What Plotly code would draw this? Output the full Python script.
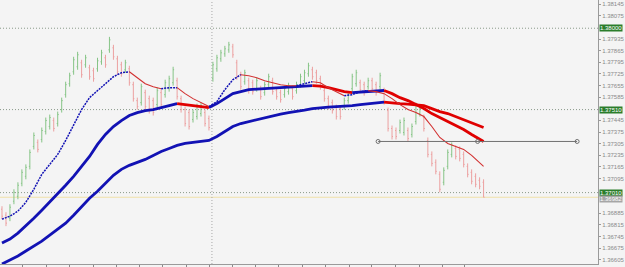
import plotly.graph_objects as go

# ---------------- data ----------------
bar_index = list(range(122))

opens = [1.36910, 1.36874, 1.36856, 1.36958, 1.36988, 1.37066, 1.37108, 1.37168, 1.37288, 1.37312,
         1.37330, 1.37378, 1.37408, 1.37444, 1.37426, 1.37510, 1.37600, 1.37666, 1.37738, 1.37768,
         1.37792, 1.37780, 1.37762, 1.37744, 1.37756, 1.37798, 1.37822, 1.37870, 1.37882, 1.37816,
         1.37780, 1.37750, 1.37756, 1.37660, 1.37564, 1.37552, 1.37612, 1.37576, 1.37564, 1.37540,
         1.37612, 1.37600, 1.37636, 1.37672, 1.37684, 1.37576, 1.37510, 1.37492, 1.37450, 1.37468,
         1.37486, 1.37492, 1.37456, 1.37696, 1.37756, 1.37816, 1.37846, 1.37870, 1.37888, 1.37792,
         1.37720, 1.37678, 1.37684, 1.37672, 1.37636, 1.37636, 1.37612, 1.37660, 1.37684, 1.37624,
         1.37612, 1.37600, 1.37618, 1.37636, 1.37624, 1.37660, 1.37684, 1.37726, 1.37750, 1.37732,
         1.37696, 1.37624, 1.37576, 1.37552, 1.37522, 1.37516, 1.37528, 1.37564, 1.37636, 1.37666,
         1.37672, 1.37660, 1.37648, 1.37684, 1.37660, 1.37648, 1.37624, 1.37504, 1.37396, 1.37384,
         1.37384, 1.37372, 1.37384, 1.37360, 1.37438, 1.37486, 1.37462, 1.37324, 1.37240, 1.37192,
         1.37120, 1.37072, 1.37168, 1.37240, 1.37276, 1.37270, 1.37240, 1.37168, 1.37132, 1.37108,
         1.37084, 1.37072]

highs = [1.36928, 1.36892, 1.36940, 1.37030, 1.37072, 1.37150, 1.37180, 1.37270, 1.37372, 1.37330,
         1.37402, 1.37462, 1.37480, 1.37462, 1.37498, 1.37582, 1.37678, 1.37732, 1.37828, 1.37858,
         1.37810, 1.37840, 1.37780, 1.37762, 1.37822, 1.37870, 1.37840, 1.37948, 1.37900, 1.37834,
         1.37798, 1.37810, 1.37774, 1.37678, 1.37582, 1.37666, 1.37630, 1.37594, 1.37582, 1.37642,
         1.37630, 1.37690, 1.37714, 1.37768, 1.37702, 1.37594, 1.37528, 1.37510, 1.37510, 1.37546,
         1.37552, 1.37510, 1.37474, 1.37798, 1.37840, 1.37870, 1.37894, 1.37918, 1.37906, 1.37810,
         1.37738, 1.37750, 1.37702, 1.37690, 1.37702, 1.37654, 1.37678, 1.37726, 1.37702, 1.37642,
         1.37630, 1.37654, 1.37672, 1.37654, 1.37678, 1.37726, 1.37750, 1.37792, 1.37768, 1.37750,
         1.37714, 1.37642, 1.37594, 1.37570, 1.37540, 1.37534, 1.37582, 1.37618, 1.37726, 1.37750,
         1.37690, 1.37678, 1.37702, 1.37702, 1.37678, 1.37732, 1.37642, 1.37522, 1.37414, 1.37402,
         1.37450, 1.37462, 1.37402, 1.37426, 1.37552, 1.37534, 1.37480, 1.37342, 1.37258, 1.37210,
         1.37138, 1.37162, 1.37270, 1.37312, 1.37294, 1.37288, 1.37258, 1.37186, 1.37150, 1.37126,
         1.37102, 1.37090]

lows = [1.36850, 1.36808, 1.36838, 1.36940, 1.36970, 1.37048, 1.37090, 1.37150, 1.37270, 1.37252,
        1.37312, 1.37360, 1.37390, 1.37378, 1.37408, 1.37492, 1.37582, 1.37648, 1.37720, 1.37750,
        1.37702, 1.37762, 1.37690, 1.37678, 1.37738, 1.37780, 1.37762, 1.37852, 1.37810, 1.37720,
        1.37708, 1.37732, 1.37654, 1.37558, 1.37510, 1.37534, 1.37510, 1.37486, 1.37474, 1.37522,
        1.37522, 1.37582, 1.37618, 1.37654, 1.37570, 1.37492, 1.37408, 1.37390, 1.37432, 1.37450,
        1.37468, 1.37408, 1.37384, 1.37678, 1.37738, 1.37798, 1.37828, 1.37852, 1.37822, 1.37690,
        1.37630, 1.37660, 1.37606, 1.37600, 1.37618, 1.37570, 1.37594, 1.37642, 1.37600, 1.37570,
        1.37552, 1.37582, 1.37600, 1.37570, 1.37606, 1.37642, 1.37666, 1.37708, 1.37690, 1.37666,
        1.37630, 1.37558, 1.37510, 1.37486, 1.37450, 1.37450, 1.37510, 1.37546, 1.37618, 1.37648,
        1.37612, 1.37594, 1.37630, 1.37618, 1.37594, 1.37630, 1.37540, 1.37378, 1.37330, 1.37330,
        1.37366, 1.37354, 1.37318, 1.37342, 1.37420, 1.37468, 1.37378, 1.37222, 1.37168, 1.37120,
        1.37012, 1.37054, 1.37150, 1.37222, 1.37210, 1.37198, 1.37162, 1.37102, 1.37060, 1.37042,
        1.37030, 1.36982]

closes = [1.36868, 1.36826, 1.36922, 1.37012, 1.37054, 1.37132, 1.37162, 1.37252, 1.37354, 1.37270,
          1.37384, 1.37444, 1.37462, 1.37396, 1.37480, 1.37564, 1.37660, 1.37714, 1.37810, 1.37840,
          1.37720, 1.37822, 1.37708, 1.37696, 1.37804, 1.37852, 1.37780, 1.37930, 1.37828, 1.37738,
          1.37726, 1.37792, 1.37672, 1.37576, 1.37528, 1.37648, 1.37528, 1.37504, 1.37492, 1.37624,
          1.37540, 1.37672, 1.37696, 1.37750, 1.37588, 1.37510, 1.37426, 1.37408, 1.37492, 1.37528,
          1.37534, 1.37426, 1.37402, 1.37780, 1.37822, 1.37852, 1.37876, 1.37900, 1.37840, 1.37708,
          1.37648, 1.37732, 1.37624, 1.37618, 1.37684, 1.37588, 1.37660, 1.37708, 1.37618, 1.37588,
          1.37570, 1.37636, 1.37654, 1.37588, 1.37660, 1.37708, 1.37732, 1.37774, 1.37708, 1.37684,
          1.37648, 1.37576, 1.37528, 1.37504, 1.37468, 1.37468, 1.37564, 1.37600, 1.37708, 1.37732,
          1.37630, 1.37612, 1.37684, 1.37636, 1.37612, 1.37714, 1.37558, 1.37396, 1.37348, 1.37348,
          1.37432, 1.37444, 1.37336, 1.37408, 1.37534, 1.37516, 1.37396, 1.37240, 1.37186, 1.37138,
          1.37030, 1.37144, 1.37252, 1.37294, 1.37228, 1.37216, 1.37180, 1.37120, 1.37078, 1.37060,
          1.37048, 1.36982]

# moving averages, sampled every second bar
ma_bars = list(range(0, 121, 2)) + [121]

ma_fast = [1.36850, 1.36868, 1.36898, 1.36952, 1.37030, 1.37120, 1.37180, 1.37240, 1.37324, 1.37420,
           1.37510, 1.37582, 1.37624, 1.37666, 1.37708, 1.37732, 1.37738, 1.37702, 1.37666, 1.37648,
           1.37636, 1.37642, 1.37642, 1.37606, 1.37576, 1.37552, 1.37528, 1.37558, 1.37630, 1.37690,
           1.37720, 1.37714, 1.37702, 1.37684, 1.37672, 1.37660, 1.37654, 1.37654, 1.37666, 1.37678,
           1.37672, 1.37642, 1.37618, 1.37594, 1.37600, 1.37618, 1.37624, 1.37618, 1.37606, 1.37576,
           1.37540, 1.37510, 1.37492, 1.37468, 1.37408, 1.37342, 1.37306, 1.37288, 1.37270, 1.37234,
           1.37192, 1.37168]

ma_mid = [1.36706, 1.36730, 1.36766, 1.36808, 1.36856, 1.36904, 1.36952, 1.37000, 1.37054, 1.37108,
          1.37168, 1.37228, 1.37300, 1.37360, 1.37408, 1.37444, 1.37474, 1.37492, 1.37504, 1.37510,
          1.37522, 1.37534, 1.37546, 1.37540, 1.37534, 1.37528, 1.37522, 1.37546, 1.37576, 1.37606,
          1.37618, 1.37630, 1.37633, 1.37636, 1.37639, 1.37642, 1.37645, 1.37648, 1.37651, 1.37654,
          1.37651, 1.37642, 1.37630, 1.37618, 1.37612, 1.37615, 1.37618, 1.37624, 1.37625, 1.37606,
          1.37582, 1.37564, 1.37540, 1.37516, 1.37486, 1.37462, 1.37438, 1.37414, 1.37390, 1.37360,
          1.37330, 1.37318]

ma_slow = [1.36580, 1.36604, 1.36628, 1.36658, 1.36688, 1.36718, 1.36754, 1.36790, 1.36826, 1.36874,
           1.36928, 1.36976, 1.37018, 1.37066, 1.37114, 1.37150, 1.37174, 1.37192, 1.37210, 1.37234,
           1.37258, 1.37276, 1.37294, 1.37306, 1.37312, 1.37318, 1.37324, 1.37348, 1.37378, 1.37408,
           1.37426, 1.37438, 1.37450, 1.37462, 1.37474, 1.37483, 1.37492, 1.37498, 1.37507, 1.37516,
           1.37522, 1.37525, 1.37528, 1.37530, 1.37534, 1.37540, 1.37546, 1.37552, 1.37555, 1.37549,
           1.37546, 1.37543, 1.37540, 1.37534, 1.37516, 1.37498, 1.37486, 1.37468, 1.37450, 1.37432,
           1.37411, 1.37402]

# right-axis price labels (those hidden under the level tags are left out)
price_ticks = [1.38145, 1.38075, 1.37935, 1.37865, 1.37795, 1.37725, 1.37655, 1.37585,
               1.37445, 1.37375, 1.37305, 1.37235, 1.37165, 1.37095,
               1.36885, 1.36815, 1.36745, 1.36675, 1.36605]

time_tick_bars = [5.25, 11.25, 17, 23, 28.75, 34.5, 40.25, 46.25, 52.25, 58, 63.75, 69.5,
                  75.5, 81.25, 87.25, 92.75, 98.75, 105, 110.75, 116.25]

level_lines = [1.38000, 1.37510, 1.37010]
bid_price = 1.36982
separator_bar = 52.75
trend_bars = [94.5, 119.5, 144.5]
trend_price = [1.37318, 1.37318, 1.37318]

# ---------------- styling ----------------
BG = "#f4f4f4"
BLUE = "#1212b4"
RED = "#e00000"
FAST_RED = "#d23030"

fig = go.Figure()

fig.add_trace(go.Ohlc(
    x=bar_index, open=opens, high=highs, low=lows, close=closes,
    increasing=dict(line=dict(color="#86c486", width=1)),
    decreasing=dict(line=dict(color="#eca0a0", width=1)),
    tickwidth=0.25, hoverinfo="skip"))


def add_colored(xs, ys, up_style, down_style):
    runs = []
    start = 0
    cur = None
    for k in range(1, len(xs)):
        if ys[k] > ys[k - 1]:
            c = "up"
        elif ys[k] < ys[k - 1]:
            c = "down"
        else:
            c = cur or "up"
        if cur is None:
            cur = c
        elif c != cur:
            runs.append((start, k - 1, cur))
            start = k - 1
            cur = c
    runs.append((start, len(xs) - 1, cur))
    for s, e, c in runs:
        st = up_style if c == "up" else down_style
        fig.add_trace(go.Scatter(x=xs[s:e + 1], y=ys[s:e + 1], mode="lines",
                                 line=st, hoverinfo="skip"))


add_colored(ma_bars, ma_slow, dict(color=BLUE, width=2.8), dict(color=RED, width=2.8))
add_colored(ma_bars, ma_mid, dict(color=BLUE, width=2.8), dict(color=RED, width=2.8))
add_colored(ma_bars, ma_fast, dict(color=BLUE, width=1.5, dash="2px,1px"),
            dict(color=FAST_RED, width=1.1))

# trend line with anchor points
fig.add_trace(go.Scatter(x=trend_bars, y=trend_price, mode="lines+markers",
                         line=dict(color="#707070", width=1),
                         marker=dict(symbol="circle-open", size=4, color="#707070"),
                         hoverinfo="skip"))

shapes = []
for p in level_lines:
    shapes.append(dict(type="line", xref="paper", x0=0, x1=1, yref="y", y0=p, y1=p,
                       line=dict(color="#8a9a8a", width=1, dash="1px,2px"), layer="below"))
shapes.append(dict(type="line", xref="paper", x0=0, x1=1, yref="y", y0=bid_price, y1=bid_price,
                   line=dict(color="#efe0a8", width=1), layer="below"))
shapes.append(dict(type="line", xref="x", x0=separator_bar, x1=separator_bar, yref="paper",
                   y0=0, y1=1, line=dict(color="#a8a8a8", width=1, dash="1px,2px"), layer="below"))

annotations = []
for p in level_lines:
    annotations.append(dict(xref="paper", x=1, xanchor="left", xshift=1, yref="y", y=p,
                            text=f"{p:.5f}", showarrow=False, bgcolor="#2b7d2b",
                            font=dict(size=6, color="white", family="Liberation Sans"),
                            borderpad=0))
annotations.append(dict(xref="paper", x=1, xanchor="left", xshift=1, yref="y", y=bid_price - 0.00012,
                        text=f"{bid_price:.5f}", showarrow=False, bgcolor="#a6a6a6",
                        font=dict(size=6, color="white", family="Liberation Sans"),
                        borderpad=0))

fig.update_layout(
    width=625, height=267,
    margin=dict(l=0, r=24, t=0, b=2),
    paper_bgcolor=BG, plot_bgcolor=BG,
    showlegend=False,
    shapes=shapes, annotations=annotations,
    xaxis=dict(range=[-0.5, 149.75], showgrid=False, zeroline=False, showticklabels=False,
               ticks="outside", ticklen=3, tickcolor="#888", tickmode="array",
               tickvals=time_tick_bars, showline=True, linecolor="#9a9a9a",
               rangeslider=dict(visible=False), fixedrange=True),
    yaxis=dict(side="right", range=[1.3658, 1.3817], showgrid=False, zeroline=False,
               tickmode="array", tickvals=price_ticks,
               ticktext=[f"{v:.5f}" for v in price_ticks],
               ticks="outside", ticklen=2, tickcolor="#9a9a9a",
               tickfont=dict(size=6, color="#8a8a8a", family="Liberation Sans"),
               showline=True, linecolor="#9a9a9a", fixedrange=True),
)

fig.write_html("out.html")
